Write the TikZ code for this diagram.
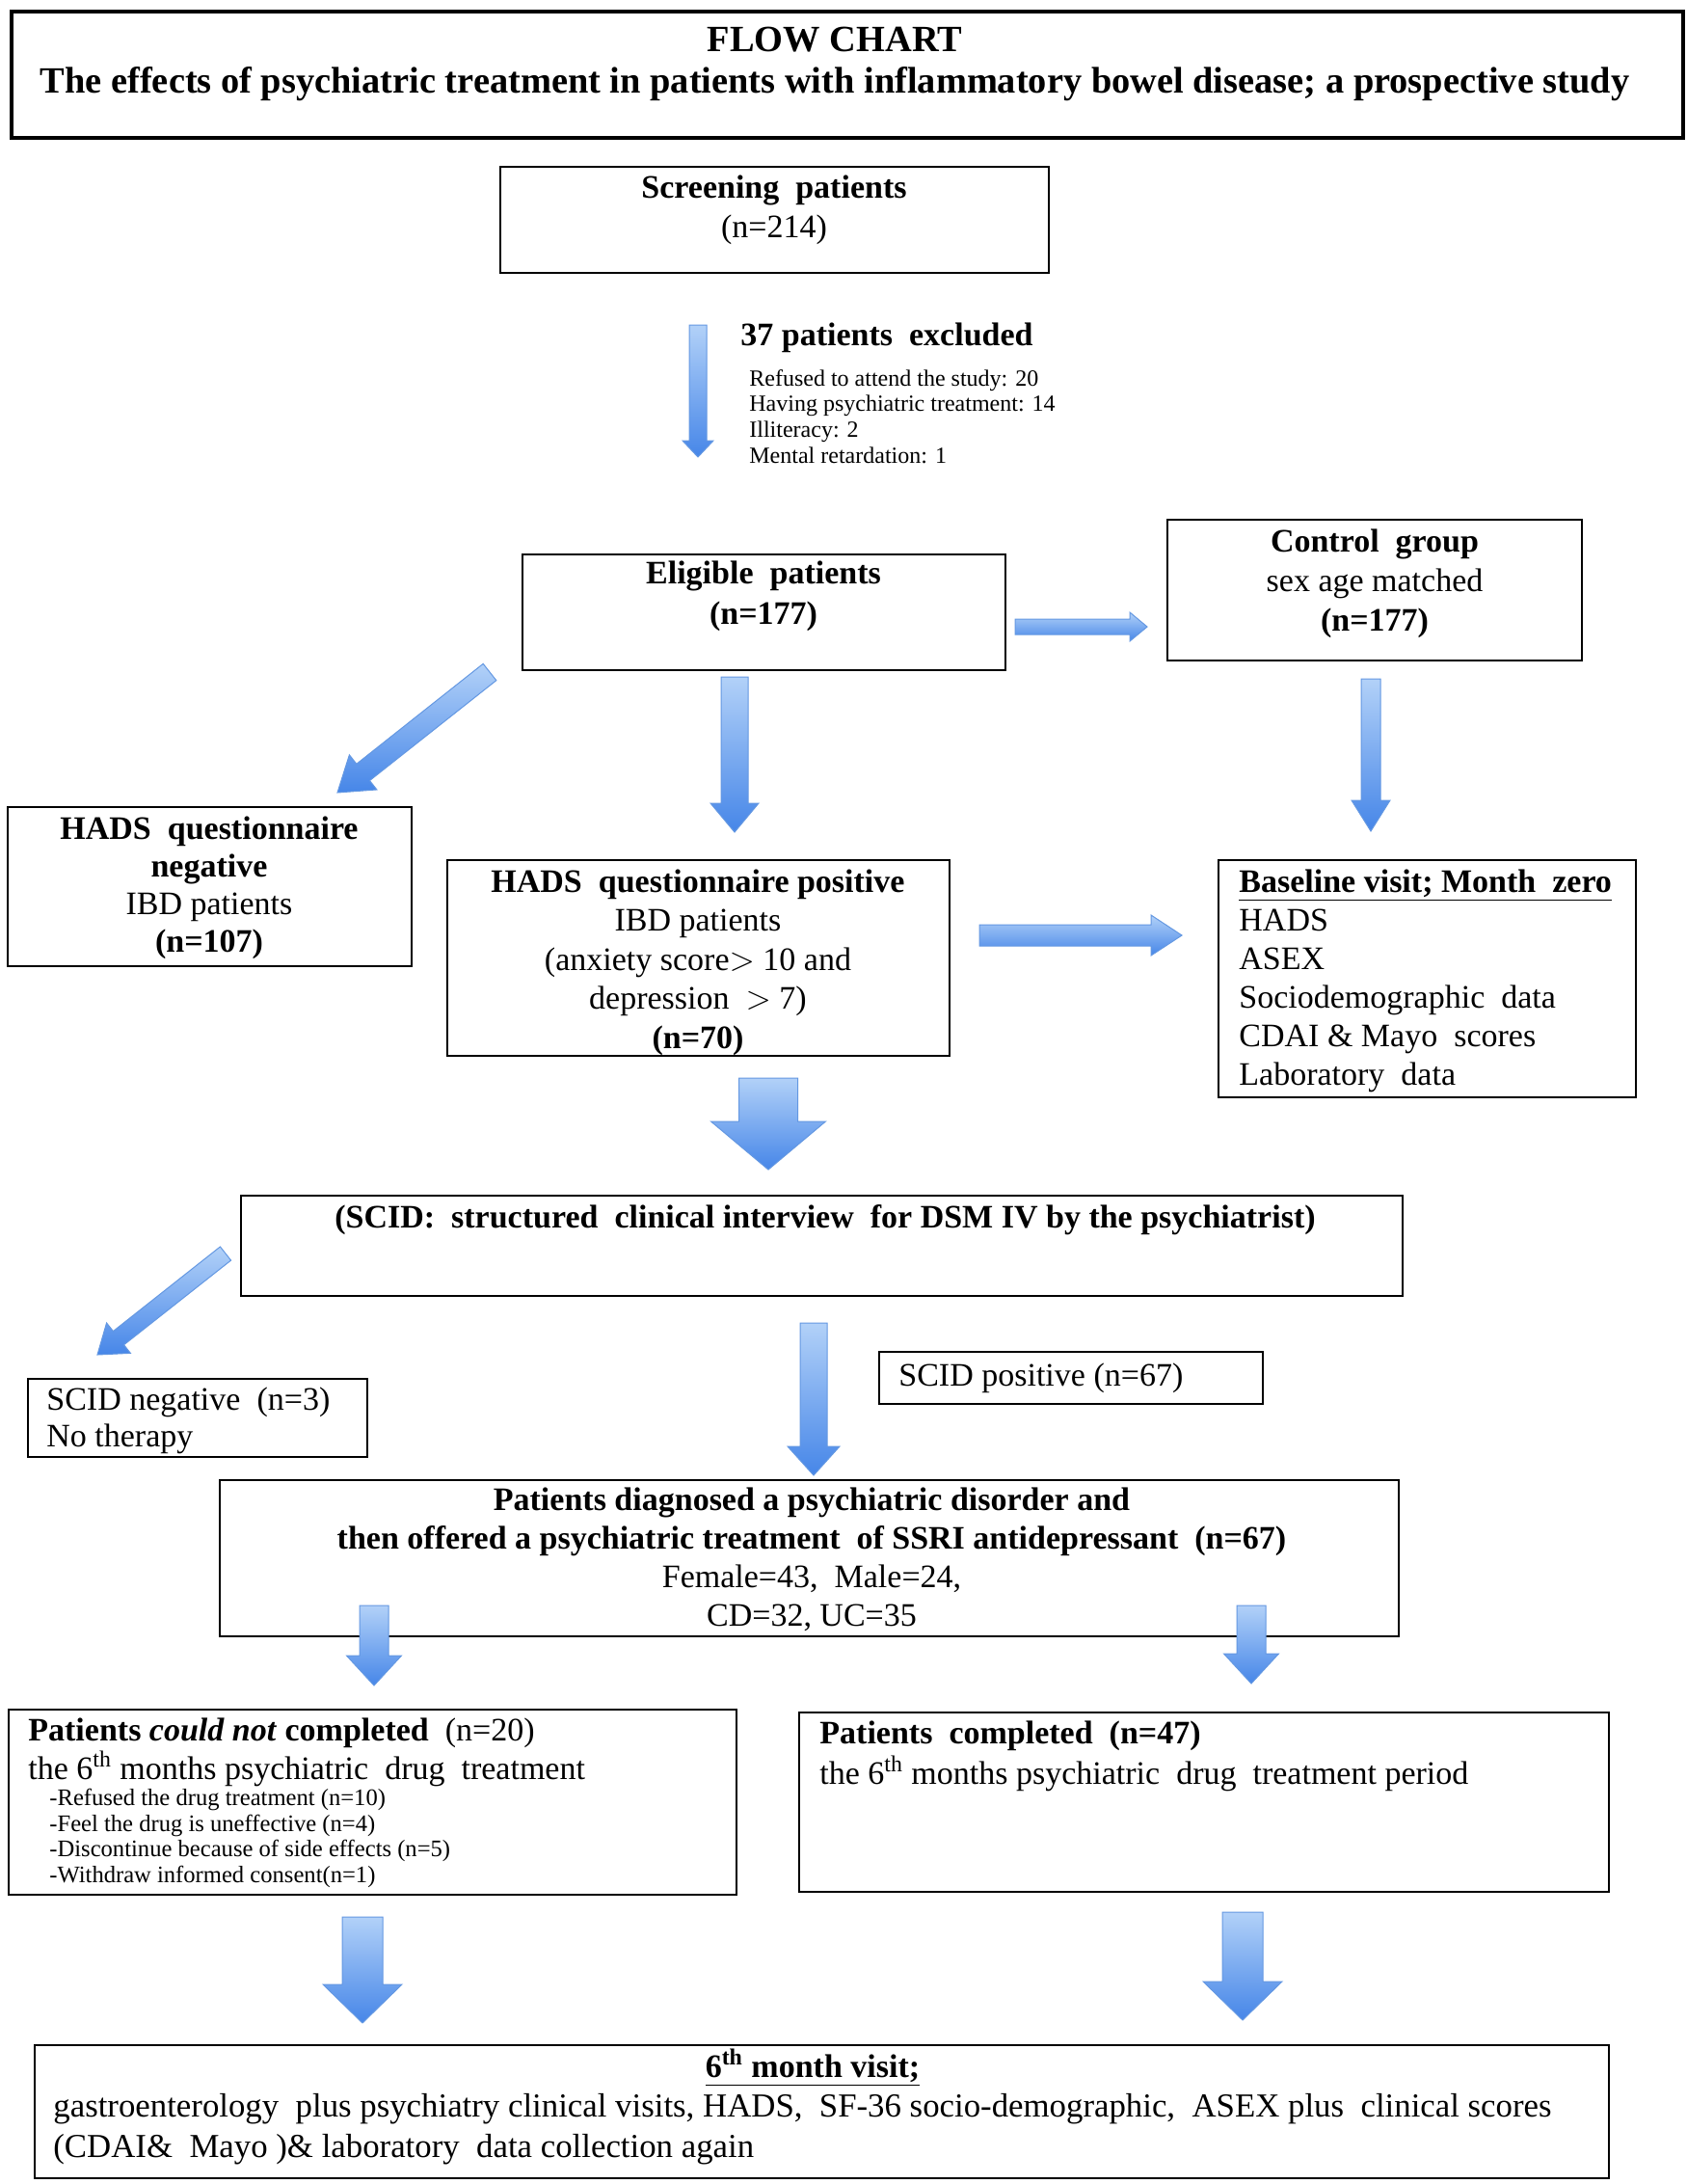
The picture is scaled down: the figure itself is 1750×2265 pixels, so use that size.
\documentclass[tikz,border=0pt]{standalone}
\usepackage{fontspec}
\setmainfont{Liberation Serif}
\usetikzlibrary{calc}
\definecolor{arrLight}{RGB}{178,209,248}
\definecolor{arrDark}{RGB}{70,134,232}
\definecolor{arrEdge}{RGB}{100,152,226}
\newcommand\fbody{\fontsize{17}{20.5}\selectfont}
\newcommand\fsmall{\fontsize{12}{13.3}\selectfont}
\newcommand\ftitle{\fontsize{19.2}{21.5}\selectfont\bfseries}
% fat shaded arrow between two named coordinates
\newcommand\fatarrow[5]{%
  \pgfmathsetlengthmacro\fas{#3*0.25pt}%
  \pgfmathsetlengthmacro\fah{#4*0.25pt}%
  \pgfmathsetlengthmacro\fal{#5*0.5pt}%
  \coordinate (fahb) at ($(#2)!\fal!(#1)$);
  \shadedraw[arrowst] ($(#1)!\fas!90:(#2)$) -- ($(fahb)!\fas!90:(#2)$)
    -- ($(fahb)!\fah!90:(#2)$) -- (#2) -- ($(fahb)!\fah!-90:(#2)$)
    -- ($(fahb)!\fas!-90:(#2)$) -- ($(#1)!\fas!-90:(#2)$) -- cycle;
}
\newcommand\boxnode[6][]{%
  \node[boxst,#1, minimum width={(#4-#2)*0.5pt}, minimum height={(#6-#3)*0.5pt}]
    (#5) at ({(#2+#4)/2},{(#3+#6)/2}) {};
}
\begin{document}
\begin{tikzpicture}[x=0.5pt,y=-0.5pt,
  boxst/.style={draw, line width=1.4pt, inner sep=0pt, rectangle},
  txt/.style={inner sep=0pt, font=\fbody, anchor=base},
  txtl/.style={inner sep=0pt, font=\fbody, anchor=base west, align=left},
  smalltxt/.style={inner sep=0pt, font=\fsmall, anchor=base west, align=left},
  arrowst/.style={top color=arrLight, bottom color=arrDark, draw=arrEdge, line width=0.5pt, line join=miter}]
\fill[white] (0,0) rectangle (1750,2265);
\useasboundingbox (0,0) rectangle (1750,2265);

% boxes
\boxnode[line width=2pt]{12}{12}{1746}{title}{143}
\boxnode{519}{173}{1088}{screen}{283}
\boxnode{542}{575}{1043}{elig}{695}
\boxnode{1211}{539}{1641}{ctrl}{685}
\boxnode{8}{837}{427}{hneg}{1002}
\boxnode{464}{892}{985}{hpos}{1095}
\boxnode{1264}{892}{1697}{base}{1138}
\boxnode{250}{1240}{1455}{scid}{1344}
\boxnode{29}{1430}{381}{sneg}{1511}
\boxnode{912}{1402}{1310}{spos}{1456}
\boxnode{228}{1535}{1451}{diag}{1697}
\boxnode{9}{1773}{764}{could}{1965}
\boxnode{829}{1776}{1669}{compl}{1962}
\boxnode{36}{2121}{1669}{final}{2259}

% texts (multi-line nodes are anchored at the baseline of their last line)
\node[txt, font=\ftitle, align=center] (ttl) at (866,96) {FLOW CHART\\The effects of psychiatric treatment in patients with inflammatory bowel disease; a prospective study};
\node[txt, align=center] (tscreen) at (803,246) {\textbf{Screening\ \ patients}\\(n=214)};
\node[txtl] (texh) at (768,358) {\textbf{37 patients\ \ excluded}};
\node[smalltxt] (texl) at (777,480) {Refused to attend the study: 20\\Having psychiatric treatment: 14\\Illiteracy: 2\\Mental retardation: 1};
\node[txt, align=center, font=\fontsize{17}{21}\selectfont\bfseries] (telig) at (792,647) {Eligible\ \ patients\\(n=177)};
\node[txt, align=center] (tctrl) at (1426,654) {\textbf{Control\ \ group}\\sex age matched\\\textbf{(n=177)}};
\node[txt, align=center, font=\fontsize{17}{19.5}\selectfont] (thneg) at (217,987) {\textbf{HADS\ \ questionnaire}\\\textbf{negative}\\IBD patients\\\textbf{(n=107)}};
\node[txt, align=center, font=\fontsize{17}{20.25}\selectfont] (thpos) at (724,1087) {\textbf{HADS\ \ questionnaire positive}\\IBD patients\\(anxiety score$>$ 10 and\\depression\ \ $>$ 7)\\\textbf{(n=70)}};
\node[txtl, font=\fontsize{17}{20}\selectfont] (tbase) at (1285,1125) {\textbf{\underline{Baseline visit; Month\ \ zero}}\\HADS\\ASEX\\Sociodemographic\ \ data\\CDAI \& Mayo\ \ scores\\Laboratory\ \ data};
\node[txt, font=\fbody\bfseries] (tscid) at (856,1273) {(SCID:\ \ structured\ \ clinical interview\ \ for DSM IV by the psychiatrist)};
\node[txtl, font=\fontsize{17}{19}\selectfont] (tsneg) at (48,1500) {SCID negative\ \ (n=3)\\No therapy};
\node[txtl] (tspos) at (932,1437) {SCID positive (n=67)};
\node[txt, align=center, font=\fontsize{17}{20}\selectfont] (tdiag) at (842,1686) {\textbf{Patients diagnosed a psychiatric disorder and}\\\textbf{then offered a psychiatric treatment\ \ of SSRI antidepressant\ \ (n=67)}\\Female=43,\ \ Male=24,\\CD=32, UC=35};
\node[txtl, font=\fontsize{17}{20}\selectfont] (tcould) at (29,1845) {\textbf{Patients \textit{could not} completed}\ \ (n=20)\\the 6\textsuperscript{th} months psychiatric\ \ drug\ \ treatment};
\node[smalltxt, font=\fontsize{12.3}{13.2}\selectfont] (tcoulds) at (51,1952) {-Refused the drug treatment (n=10)\\-Feel the drug is uneffective (n=4)\\-Discontinue because of side effects (n=5)\\-Withdraw informed consent(n=1)};
\node[txtl, font=\fontsize{17}{21}\selectfont] (tcompl) at (850,1850) {\textbf{Patients\ \ completed\ \ (n=47)}\\the 6\textsuperscript{th} months psychiatric\ \ drug\ \ treatment period};
\node[txt] (tfinh) at (843,2154) {\textbf{\underline{6\textsuperscript{th} month visit;}}};
\node[txtl, font=\fontsize{17.4}{21}\selectfont] (tfin) at (55,2237) {gastroenterology\ \ plus psychiatry clinical visits, HADS,\ \ SF-36 socio-demographic,\ \ ASEX plus\ \ clinical scores\\(CDAI\&\ \ Mayo )\& laboratory\ \ data collection again};

% arrow end points
\coordinate (a1s) at (724,337);  \coordinate (a1e) at (724,474);
\coordinate (a2s) at (1053,650); \coordinate (a2e) at (1190,650);
\coordinate (a3s) at (508,697);  \coordinate (a3e) at (350,822);
\coordinate (a4s) at (762,702);  \coordinate (a4e) at (762,863);
\coordinate (a5s) at (1422,704); \coordinate (a5e) at (1422,862);
\coordinate (a6s) at (1016,970); \coordinate (a6e) at (1226,970);
\coordinate (a7s) at (797,1118); \coordinate (a7e) at (797,1213);
\coordinate (a8s) at (234,1300); \coordinate (a8e) at (101,1405);
\coordinate (a9s) at (844,1372); \coordinate (a9e) at (844,1530);
\coordinate (a10s) at (388,1665); \coordinate (a10e) at (388,1748);
\coordinate (a11s) at (1298,1665); \coordinate (a11e) at (1298,1746);
\coordinate (a12s) at (376,1988); \coordinate (a12e) at (376,2098);
\coordinate (a13s) at (1289,1983); \coordinate (a13e) at (1289,2095);

\fatarrow{a1s}{a1e}{18}{32}{17}
\fatarrow{a2s}{a2e}{16}{30}{18}
\fatarrow{a3s}{a3e}{22}{46}{34}
\fatarrow{a4s}{a4e}{28}{50}{30}
\fatarrow{a5s}{a5e}{20}{40}{32}
\fatarrow{a6s}{a6e}{22}{42}{32}
\fatarrow{a7s}{a7e}{61}{119}{50}
\fatarrow{a8s}{a8e}{18}{40}{28}
\fatarrow{a9s}{a9e}{28}{54}{30}
\fatarrow{a10s}{a10e}{30}{57}{31}
\fatarrow{a11s}{a11e}{30}{57}{31}
\fatarrow{a12s}{a12e}{42}{82}{40}
\fatarrow{a13s}{a13e}{42}{82}{40}
\end{tikzpicture}
\end{document}
